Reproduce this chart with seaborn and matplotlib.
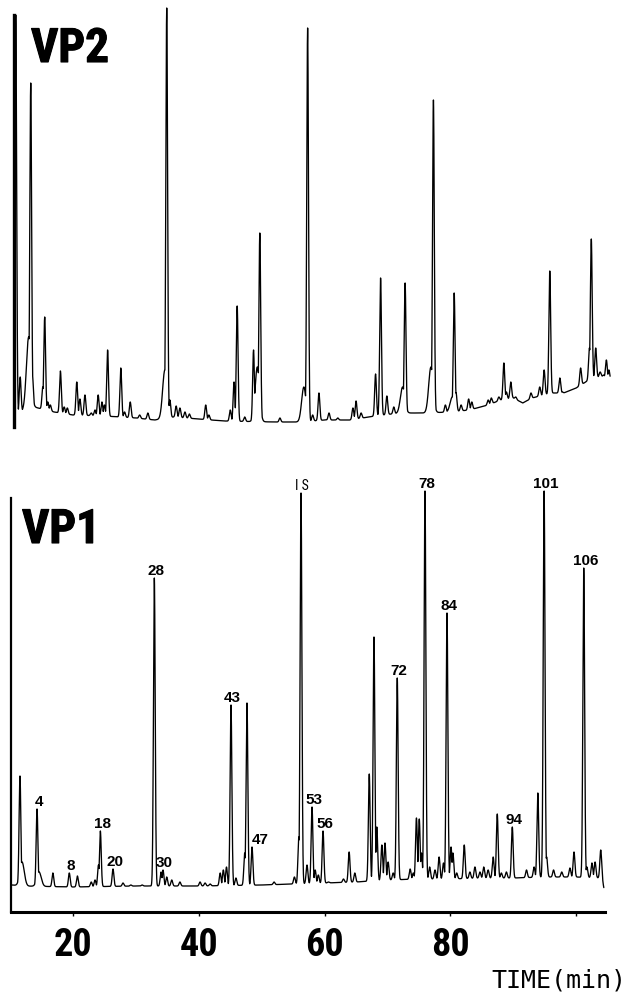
import os
import numpy as np
import pandas as pd
import matplotlib
matplotlib.use("Agg")
import matplotlib.pyplot as plt
import matplotlib.patheffects as pe
import matplotlib.font_manager as fm
import seaborn as sns

# ---------------- data ----------------
# VP2 (upper trace): baseline anchors (time [min], intensity)
vp2_base_t = [10.7, 12.5, 13.8, 17, 20, 25, 30, 33, 36, 40, 44, 52, 56, 60, 64, 68, 72, 76,
              80, 83, 86, 88, 90, 91.5, 93, 96, 98, 100, 102, 104, 105.4]
vp2_base_v = [10, 19, 20, 15, 12, 11, 9, 7, 10, 8, 6, 5, 5, 7, 7, 11, 14, 14,
              15, 17, 22, 27, 29, 24, 29, 34, 34, 39, 47, 51, 47]
# VP2 peaks: retention time and apex intensity
vp2_peak_t = [10.9, 11.6, 13.28, 13.55, 15.2, 15.5, 16.0, 16.4, 18.0, 18.6, 19.1, 20.6, 21.1,
              21.9, 22.9, 23.5, 24.0, 24.6, 25.0, 25.5, 27.6, 28.2, 29.1, 30.6, 31.9, 34.9,
              35.4, 36.4, 37.0, 37.8, 38.5, 41.1, 41.6, 45.0, 45.6, 46.1, 47.3, 48.7, 49.0,
              49.7, 52.9, 56.1, 57.3, 58.1, 59.1, 60.7, 62.1, 64.5, 65.0, 65.8, 68.1, 68.9,
              69.9, 71.0, 72.8, 77.3, 79.2, 80.6, 80.9, 81.7, 82.9, 83.4, 84.8, 86.0, 86.5,
              87.7, 88.5, 88.9, 89.6, 90.4, 91.6, 92.8, 94.2, 94.9, 95.8, 96.1, 97.4, 97.8,
              100.7, 102.1, 102.4, 103.1, 103.5, 103.8, 104.4, 104.8, 105.2]
vp2_peak_v = [412, 50, 344, 52, 40, 110, 25, 22, 56, 20, 19, 45, 28,
              32, 14, 17, 32, 25, 22, 77, 59, 15, 25, 12, 14, 419,
              27, 21, 19, 15, 13, 22, 12, 17, 45, 121, 10, 77, 34,
              194, 9, 9, 399, 12, 34, 14, 9, 19, 26, 14, 53, 149,
              31, 20, 144, 327, 22, 134, 34, 22, 28, 25, 19, 27, 29,
              30, 64, 35, 45, 30, 24, 34, 40, 57, 156, 32, 49, 35,
              59, 79, 188, 79, 49, 55, 52, 67, 57]
# VP2 broad shoulders
vp2_shoulder_t = [12.95, 34.6, 49.3, 56.7, 72.4, 76.9, 80.3]
vp2_shoulder_v = [90, 57, 60, 40, 40, 60, 30]

# VP1 (lower trace)
vp1_base_t = [10.3, 12, 20, 30, 40, 50, 55, 60, 65, 70, 75, 80, 85, 90, 95, 100, 104.1, 104.4]
vp1_base_v = [27, 26, 25, 26, 26, 27, 28, 29, 30, 32, 33, 33, 34, 34, 35, 35, 34, 24]
vp1_peak_t = [11.57, 14.28, 16.8, 19.41, 20.7, 22.9, 23.5, 24.05, 24.35, 26.36, 27.95, 29.2,
              31.0, 32.93, 34.0, 34.31, 34.9, 35.7, 37.0, 40.2, 41.0, 41.8, 43.4, 43.9, 44.4,
              45.12, 45.9, 47.3, 47.66, 48.46, 51.96, 55.2, 55.9, 56.25, 57.2, 58.0, 58.5,
              59.0, 59.75, 60.6, 63.0, 63.9, 64.8, 67.1, 67.85, 68.3, 69.1, 69.6, 70.1, 70.9,
              71.55, 73.6, 74.1, 74.6, 75.05, 75.4, 75.96, 76.7, 77.55, 78.2, 78.9, 79.46,
              80.1, 80.4, 81.0, 82.2, 83.1, 83.9, 84.7, 85.3, 86.0, 86.8, 87.45, 88.1, 88.9,
              89.84, 92.1, 93.3, 93.9, 94.9, 95.3, 96.4, 97.7, 99.0, 99.65, 101.2, 101.7,
              102.5, 103.0, 103.9]
vp1_peak_v = [136, 103, 39, 39, 36, 30, 32, 47, 81, 43, 29, 27,
              27, 334, 40, 42, 35, 32, 30, 30, 29, 28, 39, 42, 45,
              207, 34, 59, 209, 65, 30, 35, 75, 419, 47, 105, 42,
              37, 81, 30, 33, 60, 39, 138, 275, 85, 67, 69, 50, 39,
              234, 43, 39, 94, 93, 59, 421, 45, 42, 55, 49, 299,
              65, 59, 39, 67, 40, 45, 40, 45, 42, 55, 98, 39, 40,
              85, 42, 45, 119, 421, 55, 42, 40, 44, 60, 344, 45,
              49, 50, 62]
vp1_shoulder_t = [11.9, 14.6]
vp1_shoulder_v = [50, 40]

# peak annotations on VP1
vp1_labels = ["4", "8", "18", "20", "28", "30", "43", "47", "IS", "53", "56",
              "72", "78", "84", "94", "101", "106"]
vp1_label_t = [14.28, 19.41, 24.35, 26.36, 32.93, 34.31, 45.12, 48.46, 56.25, 58.0,
               59.75, 71.55, 75.96, 79.46, 89.84, 94.9, 101.2]

x_ticks = [20, 40, 60, 80, 100]
x_ticklabels = ["20", "40", "60", "80", ""]
axis_title = "TIME(min)"
panel_names = ["VP2", "VP1"]


# ---------------- fonts ----------------
def pick_font(prefs, fallback):
    files = {}
    for f in fm.fontManager.ttflist:
        key = os.path.splitext(os.path.basename(f.fname))[0].lower()
        key = key.replace("-", "").replace("_", "").replace(" ", "")
        files.setdefault(key, f.fname)
    for p in prefs:
        if p in files:
            return fm.FontProperties(fname=files[p]), p
    return fm.FontProperties(family=fallback[0], weight=fallback[1]), None


fp_heavy, heavy_name = pick_font(
    ["notosansextracondensedblack", "notosansextracondensedextrabold",
     "notosansextracondensedbold", "robotocondensedblack", "robotocondensedextrabold",
     "robotocondensedbold", "opensanscondensedextrabold", "opensanscondensedbold",
     "notosanscondensedblack", "notosanscondensedbold",
     "dejavusanscondensedbold", "liberationsansnarrowbold"],
    ("Liberation Sans", "bold"))
fp_tick, tick_name = pick_font(
    ["notosansextracondensedbold", "notosansextracondensedsemibold",
     "robotocondensedbold", "opensanscondensedbold", "notosanscondensedbold",
     "dejavusanscondensedbold", "liberationsansnarrowbold"],
    ("Liberation Sans", "bold"))
fp_mono, mono_name = pick_font(
    ["notosansmonoextracondensed", "notosansmonocondensed", "dejavusansmono"],
    ("DejaVu Sans Mono", "normal"))
fp_thin, thin_name = pick_font(
    ["notosansextracondensed", "notosanscondensed", "robotocondensedregular",
     "dejavusanscondensed"],
    ("DejaVu Sans", "normal"))


# ---------------- build traces ----------------
def trace(t0, t1, bt, bv, pt, pv, st, sv, sig=0.14, sig_b=0.35):
    t = np.arange(t0, t1, 0.01)
    base = np.interp(t, bt, bv)
    env = np.zeros_like(t)
    for tp, vp in zip(pt, pv):
        a = max(vp - np.interp(tp, bt, bv), 0)
        env = np.maximum(env, a * np.exp(-0.5 * ((t - tp) / sig) ** 2))
    for tp, vp in zip(st, sv):
        a = max(vp - np.interp(tp, bt, bv), 0)
        env = np.maximum(env, a * np.exp(-0.5 * ((t - tp) / sig_b) ** 2))
    return pd.DataFrame({"time": t, "signal": base + env})


df2 = trace(vp2_base_t[0], vp2_base_t[-1], vp2_base_t, vp2_base_v,
            vp2_peak_t, vp2_peak_v, vp2_shoulder_t, vp2_shoulder_v)
df1 = trace(vp1_base_t[0], vp1_base_t[-1], vp1_base_t, vp1_base_v,
            vp1_peak_t, vp1_peak_v, vp1_shoulder_t, vp1_shoulder_v)

# ---------------- figure ----------------
sns.set_theme(style="white")
plt.rcParams["font.family"] = ["Liberation Sans", "DejaVu Sans"]
plt.rcParams["text.color"] = "black"

W, H = 631, 996
fig = plt.figure(figsize=(W / 100, H / 100), dpi=100)


def px_axes(l, r, top, bot):
    return fig.add_axes([l / W, 1 - bot / H, (r - l) / W, (bot - top) / H])


def t_of_px(x):
    return 20 + (x - 73) / 6.29


ax2 = px_axes(14, 612, 15, 427)
ax1 = px_axes(11, 605, 498, 912)

for ax, df, l, r, ymax in [(ax2, df2, 14, 612, 412), (ax1, df1, 11, 605, 414)]:
    sns.lineplot(data=df, x="time", y="signal", ax=ax, color="black", lw=0.95,
                 estimator=None, sort=False, clip_on=False)
    ax.set_xlim(t_of_px(l), t_of_px(r))
    ax.set_ylim(0, ymax)
    ax.set_xlabel("")
    ax.set_ylabel("")
    ax.set_yticks([])
    ax.patch.set_alpha(0)
    for s in ["top", "right"]:
        ax.spines[s].set_visible(False)

# upper panel: only a left spine
ax2.spines["bottom"].set_visible(False)
ax2.set_xticks([])
ax2.spines["left"].set_linewidth(2.4)
ax2.spines["left"].set_color("black")

# lower panel axes
ax1.spines["left"].set_linewidth(1.6)
ax1.spines["bottom"].set_linewidth(2.2)
ax1.spines["left"].set_color("black")
ax1.spines["bottom"].set_color("black")
ax1.set_xticks(x_ticks)
ax1.set_xticklabels(x_ticklabels)
for lab in ax1.get_xticklabels():
    lab.set_fontproperties(fp_tick)
    lab.set_fontsize(27.5 if tick_name and "condensed" in tick_name else 24)
    lab.set_color("black")
ax1.tick_params(axis="x", direction="out", length=3, width=1, color="black", pad=7.5,
                bottom=True)

# peak labels
for lab, tl in zip(vp1_labels, vp1_label_t):
    m = (df1["time"] > tl - 0.2) & (df1["time"] < tl + 0.2)
    yv = df1.loc[m, "signal"].max()
    if lab == "IS":
        ax1.annotate("I S", (tl, yv), xytext=(1, 2.5), textcoords="offset points",
                     ha="center", va="baseline", fontproperties=fp_thin, fontsize=10,
                     color="black", annotation_clip=False)
    elif lab == "47":
        ax1.annotate(lab, (tl, yv), xytext=(-0.5, 2.0), textcoords="offset points",
                     ha="left", va="baseline", fontsize=11, fontweight="bold",
                     color="black", annotation_clip=False)
    else:
        ax1.annotate(lab, (tl, yv), xytext=(1.2, 2.5), textcoords="offset points",
                     ha="center", va="baseline", fontsize=11, fontweight="bold",
                     color="black", annotation_clip=False)

# panel names
heavy_size = 34 if heavy_name and "condensed" in heavy_name else 28
for name, (x, y) in zip(panel_names, [(31, 62), (22, 543)]):
    fig.text(x / W, 1 - y / H, name, ha="left", va="baseline",
             fontproperties=fp_heavy, fontsize=heavy_size, color="black",
             path_effects=[pe.withStroke(linewidth=0.8, foreground="black")])

fig.text(626 / W, 1 - 980 / H, axis_title, ha="right", va="center",
         fontproperties=fp_mono, fontsize=22 if mono_name and "condensed" in mono_name else 18,
         color="black")

fig.savefig("out.png", dpi=100, facecolor="white")
